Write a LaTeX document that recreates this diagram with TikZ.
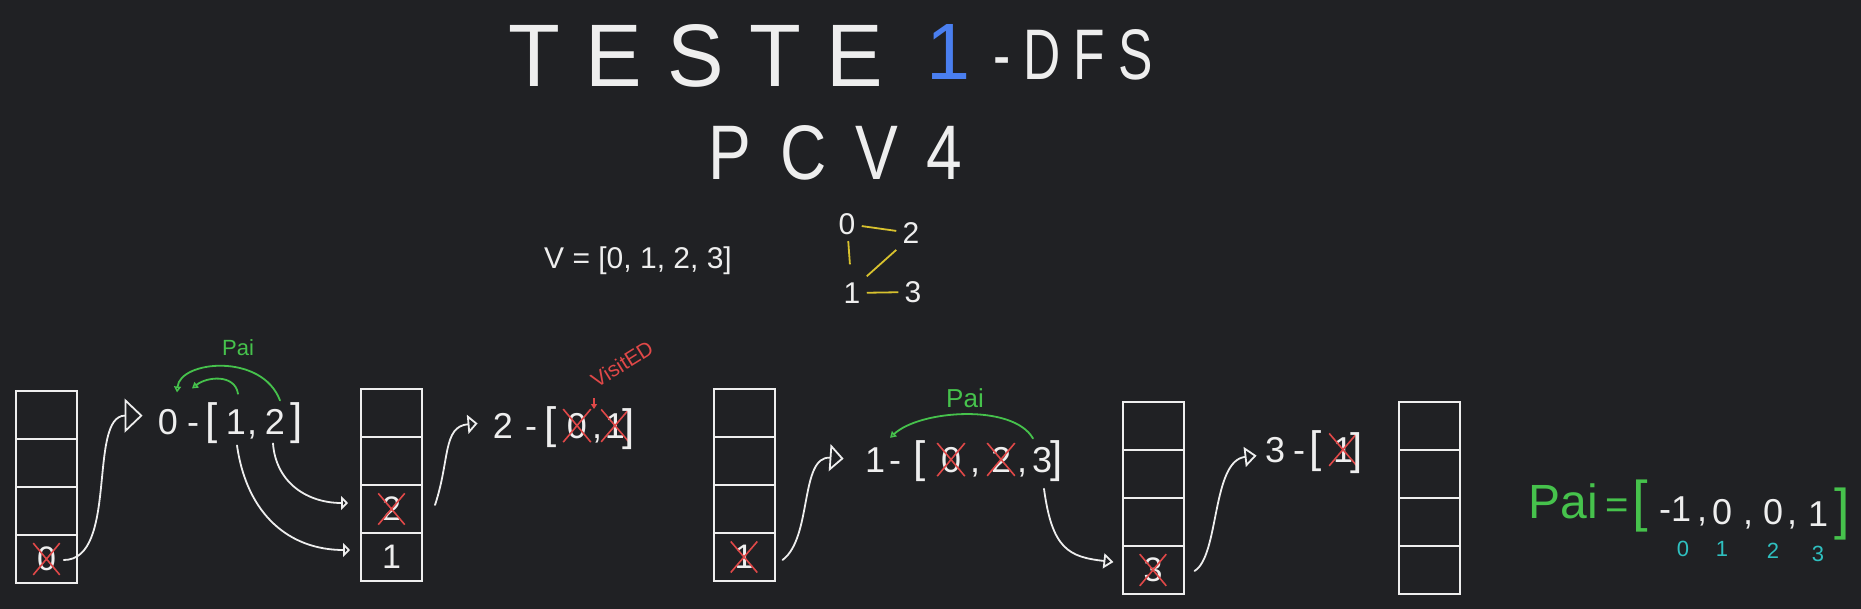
\documentclass[tikz,border=0pt]{standalone}
\usepackage{fontspec}
\setmainfont{Liberation Sans}
\usepackage{graphicx}
\usetikzlibrary{arrows.meta,shapes.misc,calc}
\definecolor{bg}{HTML}{202124}
\definecolor{inkw}{HTML}{EEEEEE}
\definecolor{pgreen}{HTML}{46C24C}
\definecolor{xred}{HTML}{E04848}
\definecolor{tblue}{HTML}{4A7FF0}
\definecolor{gyel}{HTML}{D8C22E}
\definecolor{icyan}{HTML}{2FC0C0}
\newcommand\myfs[1]{\fontsize{#1}{#1}\selectfont}
\begin{document}
\begin{tikzpicture}[x=0.5pt,y=-0.5pt,
  cell/.style={draw=inkw, line width=1pt, minimum width=30.5pt, minimum height=24pt, inner sep=0pt, outer sep=0pt},
  tok/.style={inner sep=0pt, anchor=base, text=inkw, font=\myfs{18}},
  brk/.style={tok, font=\myfs{22}},
  tokx/.style={tok, cross out, draw=xred, line width=0.8pt, inner sep=1.5pt},
  dig/.style={text=inkw, font=\myfs{17}, inner sep=1.5pt},
  digx/.style={dig, cross out, draw=xred, line width=0.8pt},
  conn/.style={draw=inkw, line width=0.9pt, line cap=round},
  arr/.style 2 args={-{Triangle[open,length=#1,width=#2]}},
  pai/.style={draw=pgreen, line width=0.9pt, line cap=round, -{Triangle[open,length=3pt,width=3.5pt]}},
  gn/.style={text=inkw, font=\myfs{15}, inner sep=3pt},
  gedge/.style={draw=gyel, line width=0.9pt},
  ttl/.style={inner sep=0pt, anchor=base west, text=inkw}]
\fill[bg] (0,0) rectangle (1861,609);
\useasboundingbox (0,0) rectangle (1861,609);

% title
\node[ttl] (t1) at (508,87) {\resizebox{187.5pt}{31pt}{\addfontfeatures{LetterSpace=30}TESTE}};
\node[ttl, text=tblue] (t2) at (926,80) {\resizebox{22pt}{27.5pt}{1}};
\node[ttl] (t3) at (993,80) {\resizebox{79.5pt}{25pt}{\addfontfeatures{LetterSpace=25}-DFS}};
\node[ttl] (t4) at (708,180) {\resizebox{127pt}{27pt}{\addfontfeatures{LetterSpace=45}PCV4}};

% vertex list and graph
\node[tok, font=\myfs{15}] (vv) at (638,268) {V = [0, 1, 2, 3]};
\node[gn] (g0) at (847,224) {0};
\node[gn] (g2) at (911,233) {2};
\node[gn] (g1) at (852,293) {1};
\node[gn] (g3) at (913,292) {3};
\draw[gedge] (g0) -- (g2);
\draw[gedge, shorten >=6pt] (g0) -- (g1);
\draw[gedge] (g2.south west) -- (g1.north east);
\draw[gedge] (g1) -- (g3);

% stacks
\foreach \n/\x/\y in {1/46.5/391, 2/391.5/389, 3/744/389, 4/1153/402, 5/1429/402} {
  \foreach \i in {1,2,3,4} {
    \node[cell] (s\n c\i) at (\x,{\y+48*\i-24}) {};
  }
}
\node[digx] (v1) at (s1c4) {0};
\node[digx] (v2a) at (s2c3) {2};
\node[dig] (v2b) at (s2c4) {1};
\node[digx] (v3) at (s3c4) {1};
\node[digx] (v4) at (s4c4) {3};

% expression 1
\node[tok] (e1a) at (168,434) {0};
\node[tok] (e1d) at (193,434) {-};
\node[brk] (e1l) at (212,434) {[};
\node[tok] (e1b) at (236,434) {1};
\node[tok] (e1c) at (252,434) {,};
\node[tok] (e1e) at (275,434) {2};
\node[brk] (e1r) at (297,434) {]};
\node[text=pgreen, font=\myfs{11}] (pai1) at (238,348) {Pai};

% expression 2
\node[tok] (e2a) at (503,438) {2};
\node[tok] (e2d) at (531,438) {-};
\node[brk] (e2l) at (551,438) {[};
\node[tokx] (e2b) at (577,438) {0};
\node[tok] (e2c) at (597,438) {,};
\node[tokx] (e2e) at (615,438) {1};
\node[brk] (e2r) at (629,440) {]};
\node[text=xred, font=\myfs{10.5}, rotate=32, inner sep=1pt] (vis) at (622,364) {VisitED};

% expression 3
\node[tok] (e3a) at (875,472) {1};
\node[tok] (e3d) at (895,472) {-};
\node[brk] (e3l) at (920,472) {[};
\node[tokx] (e3b) at (951,472) {0};
\node[tok] (e3c) at (975,472) {,};
\node[tokx] (e3e) at (1001,472) {2};
\node[tok] (e3g) at (1022,472) {,};
\node[tok] (e3f) at (1042,472) {3};
\node[brk] (e3r) at (1057,472) {]};
\node[text=pgreen, font=\myfs{13}] (pai2) at (965,398) {Pai};

% expression 4
\node[tok] (e4a) at (1275,462) {3};
\node[tok] (e4d) at (1299,462) {-};
\node[brk] (e4l) at (1316,462) {[};
\node[tokx] (e4b) at (1343,462) {1};
\node[brk] (e4r) at (1357,464) {]};

% Pai array
\node[tok, text=pgreen, font=\myfs{24}] (pa) at (1563,518) {Pai};
\node[tok, text=pgreen, font=\myfs{20}] (peq) at (1617,518) {=};
\node[tok, text=pgreen, font=\myfs{28}] (pl) at (1640,520) {[};
\node[tok] (p1) at (1675,521) {-1};
\node[tok] (pc1) at (1702,521) {,};
\node[tok] (p2) at (1722,524) {0};
\node[tok] (pc2) at (1748,524) {,};
\node[tok] (p3) at (1773,524) {0};
\node[tok] (pc3) at (1792,524) {,};
\node[tok] (p4) at (1818,526) {1};
\node[tok, text=pgreen, font=\myfs{28}] (pr) at (1842,528) {]};
\node[tok, text=icyan, font=\myfs{11}] (i0) at (1683,556) {0};
\node[tok, text=icyan, font=\myfs{11}] (i1) at (1722,556) {1};
\node[tok, text=icyan, font=\myfs{11}] (i2) at (1773,558) {2};
\node[tok, text=icyan, font=\myfs{11}] (i3) at (1818,561) {3};

% connectors
\draw[conn, arr={9pt}{17pt}] ($(v1.east)+(4,1)$) .. controls +(55,0) and +(-55,0) .. ($(e1a.west)+(-15,-6)$);
\draw[conn, arr={3.5pt}{7pt}] ($(e1b.south)+(1,11)$) .. controls +(10,70) and +(-60,0) .. ($(s2c4.west)+(-11,-7)$);
\draw[conn, arr={3.5pt}{7pt}] ($(e1e.south)+(-2,9)$) .. controls +(3,40) and +(-40,0) .. ($(s2c3.west)+(-13,-6)$);
\draw[conn, arr={5pt}{9.5pt}] ($(s2c3.east)+(13,-4)$) .. controls +(15,-45) and +(-35,3) .. ($(e2a.west)+(-15,-2)$);
\draw[conn, arr={7pt}{13.5pt}] ($(s3c4.east)+(8,3)$) .. controls +(30,-22) and +(-44,-3) .. ($(e3a.west)+(-21,-1)$);
\draw[conn, arr={5pt}{7.5pt}] ($(e3f.south)+(2,16)$) .. controls +(8,60) and +(-45,-5) .. ($(s4c4.west)+(-9,-8)$);
\draw[conn, arr={6pt}{10pt}] ($(s4c4.east)+(11,1)$) .. controls +(25,-15) and +(-45,5) .. ($(e4a.west)+(-8,6)$);

% parent arcs
\draw[pai] ($(e1e.north)+(5,-8)$) .. controls +(-18,-48) and +(3,-32) .. ($(e1a.north)+(9,-16)$);
\draw[pai] ($(e1b.north)+(2,-15)$) .. controls +(-3,-20) and +(15,-12) .. ($(e1a.north)+(24,-20)$);
\draw[pai] ($(e3f.north)+(-9,-8)$) .. controls +(-20,-35) and +(30,-28) .. ($(e3a.north)+(15,-9)$);
\draw[draw=xred, line width=0.8pt, -{Triangle[length=2.5pt,width=3pt]}] ($(vis.center)+(-28,34)$) -- ($(vis.center)+(-28,45)$);
\end{tikzpicture}
\end{document}
